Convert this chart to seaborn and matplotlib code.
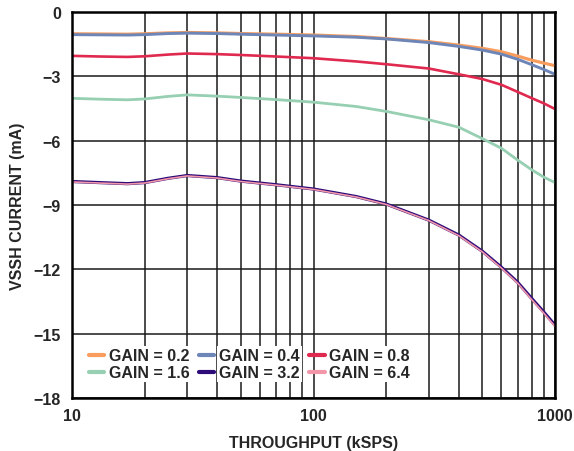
import matplotlib
matplotlib.use("Agg")
import matplotlib.pyplot as plt
import matplotlib.ticker as mticker
import seaborn as sns

# throughput (kSPS)
throughput = [10, 13, 17, 20, 25, 30, 40, 50, 70, 100, 150, 200, 300, 400, 500, 600, 700, 800, 900, 1000]

# VSSH current (mA) per gain setting
gain_0_2 = [-1.01, -1.02, -1.03, -1.01, -0.97, -0.95, -0.97, -1.00, -1.03, -1.07,
            -1.14, -1.23, -1.38, -1.54, -1.69, -1.85, -2.05, -2.24, -2.38, -2.50]
gain_0_4 = [-1.05, -1.06, -1.07, -1.05, -1.00, -0.98, -1.00, -1.03, -1.07, -1.11,
            -1.17, -1.25, -1.42, -1.60, -1.77, -1.96, -2.20, -2.45, -2.68, -2.90]
gain_0_8 = [-2.04, -2.07, -2.09, -2.06, -1.98, -1.93, -1.96, -2.00, -2.07, -2.15,
            -2.30, -2.43, -2.63, -2.90, -3.12, -3.39, -3.72, -4.01, -4.26, -4.52]
gain_1_6 = [-4.02, -4.06, -4.09, -4.05, -3.93, -3.86, -3.92, -3.98, -4.08, -4.20,
            -4.40, -4.63, -5.02, -5.37, -5.90, -6.35, -6.90, -7.35, -7.70, -7.95]
gain_3_2 = [-7.90, -7.95, -8.00, -7.95, -7.75, -7.62, -7.72, -7.88, -8.05, -8.25,
            -8.60, -8.95, -9.70, -10.40, -11.15, -11.90, -12.60, -13.35, -14.00, -14.60]
gain_6_4 = [-7.92, -7.97, -8.02, -7.97, -7.77, -7.64, -7.74, -7.90, -8.07, -8.27,
            -8.62, -8.97, -9.72, -10.43, -11.18, -11.94, -12.64, -13.40, -14.05, -14.66]

series = [
    ("GAIN = 0.2", gain_0_2, "#f99d5e", 2.3),
    ("GAIN = 0.4", gain_0_4, "#6d86b7", 2.1),
    ("GAIN = 0.8", gain_0_8, "#e0294f", 1.9),
    ("GAIN = 1.6", gain_1_6, "#96cfb1", 2.0),
    ("GAIN = 3.2", gain_3_2, "#2d0b78", 2.3),
    ("GAIN = 6.4", gain_6_4, "#f296aa", 1.2),
]

sns.set_theme(style="whitegrid")
plt.rcParams['font.family'] = ['Liberation Sans', 'DejaVu Sans']
plt.rcParams['font.weight'] = 'bold'

fig = plt.figure(figsize=(5.74, 4.52), dpi=100)
ax = fig.add_axes([0.1254, 0.117, 0.8416, 0.854])

for label, vals, color, lw in series:
    sns.lineplot(x=throughput, y=vals, ax=ax, color=color, linewidth=lw, label=label)

ax.set_xscale('log')
ax.set_xlim(10, 1000)
ax.set_ylim(-18, 0)
ax.set_yticks([0, -3, -6, -9, -12, -15, -18])
ax.xaxis.set_major_locator(mticker.FixedLocator([10, 100, 1000]))
ax.xaxis.set_major_formatter(mticker.FixedFormatter(['10', '100', '1000']))
ax.xaxis.set_minor_locator(mticker.LogLocator(base=10, subs=range(2, 10)))
ax.xaxis.set_minor_formatter(mticker.NullFormatter())

ax.grid(True, which='major', color='#1a1a1a', linewidth=1.1)
ax.grid(True, which='minor', axis='x', color='#1a1a1a', linewidth=1.1)
ax.set_facecolor('white')
for sp in ax.spines.values():
    sp.set_color('black')
    sp.set_linewidth(1.8)

ax.tick_params(axis='both', which='both', length=0, labelsize=11.5)
ax.tick_params(axis='y', pad=8)
ax.tick_params(axis='x', pad=7)
for t in ax.get_xticklabels() + ax.get_yticklabels():
    t.set_fontweight('bold')

ax.set_xlabel('THROUGHPUT (kSPS)', fontsize=11.5, fontweight='bold', labelpad=9)
ax.set_ylabel('VSSH CURRENT (mA)', fontsize=11.5, fontweight='bold', labelpad=6)

# row-wise legend order: 0.2 0.4 0.8 / 1.6 3.2 6.4
handles, labels = ax.get_legend_handles_labels()
order = [0, 3, 1, 4, 2, 5]
leg = ax.legend([handles[i] for i in order], [labels[i] for i in order],
                ncol=3, loc='lower left', bbox_to_anchor=(0.022, 0.03),
                frameon=False, fontsize=11.5, handlelength=0.95,
                handletextpad=0.3, columnspacing=0.6, labelspacing=0.12,
                borderaxespad=0)
for txt in leg.get_texts():
    txt.set_fontweight('bold')
    txt.set_bbox(dict(facecolor='white', edgecolor='none', pad=1.5))
for h in leg.get_lines():
    h.set_linewidth(3)

fig.savefig('out.png', dpi=100)
